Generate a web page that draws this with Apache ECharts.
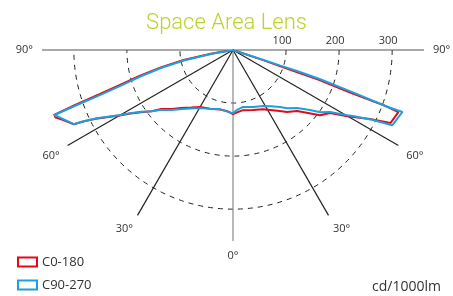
<!DOCTYPE html>
<html>
<head>
<meta charset="utf-8">
<script src="https://cdn.jsdelivr.net/npm/echarts@6/dist/echarts.min.js"></script>
<style>
  html, body { margin: 0; padding: 0; background: #fff; }
  #chart { width: 453px; height: 296px; }
</style>
</head>
<body>
<div id="chart"></div>
<script>
// gamma angle in degrees (negative = left half, positive = right half) and cd/1000lm
var redAngles = [-90, -80.5, -78.5, -76.5, -74.5, -72.8, -71.7, -70.8, -70, -67.6, -65, -64.4, -63.4, -60, -58.5, -56, -53, -50.6, -46, -42, -36, -30, -21.5, -12.4, -5, 0,
                 5, 9.5, 18.4, 26.9, 37.6, 41, 46.4, 53.2, 57, 59.9, 63.3, 65.1, 69.4, 69.9, 70, 70.9, 71, 71, 71.5, 90];
var redCd     = [0, 40, 95, 140, 183, 224, 265, 315, 364, 346, 331, 311, 289, 247, 230, 210, 192, 175, 160, 147, 134, 124, 119, 115, 116, 121,
                 117, 115, 119, 125, 145, 155, 167, 205, 218, 249, 289, 327, 333, 300, 235, 170, 127, 92, 60, 0];
var blueAngles = [-90, -80, -78, -76, -74, -72.3, -71.3, -70.6, -70, -67.6, -65, -64.4, -63.4, -60, -58.5, -56, -53, -50.6, -46, -41.9, -36.3, -29.6, -21.5, -12.4, -4.6, 0,
                  4, 10, 19.3, 28.2, 34, 39.5, 43, 47.8, 52.1, 54.5, 57.4, 60.3, 61.2, 63.4, 64.7, 69.9, 69.8, 70.5, 71.5, 71.8, 71.8, 72, 90];
var blueCd     = [0, 40, 95, 140, 183, 224, 265, 312, 358, 344, 331, 310, 287, 245, 228, 208, 192, 178, 163, 150, 137, 126, 119, 114, 117, 119,
                  113, 109, 114, 120, 128, 139, 150, 163, 184, 202, 217, 248, 258, 295, 332, 340, 310, 241, 172, 127, 94, 60, 0];

var seriesNames = ['C0-180', 'C90-270'];
var seriesColors = ['#e30a17', '#1ea0dd'];

function toPolar(angles, values) {
    var out = [];
    for (var i = 0; i < angles.length; i++) {
        out.push([values[i], -angles[i]]); // axis runs clockwise from the right, so flip sign
    }
    return out;
}

var myChart = echarts.init(document.getElementById('chart'));
var option = {
    animation: false,
    title: [{
        text: 'Space Area Lens',
        left: 'center',
        top: 7,
        textStyle: { color: '#bfd22b', fontSize: 22, fontWeight: 300, fontFamily: 'Roboto' }
    }, {
        text: 'cd/1000lm',
        right: 7,
        top: 275,
        textStyle: { color: '#333', fontSize: 14, fontWeight: 'normal', fontFamily: 'Open Sans' }
    }],
    legend: {
        orient: 'vertical',
        left: 17,
        top: 253,
        padding: 0,
        itemWidth: 19,
        itemHeight: 9,
        itemGap: 5,
        icon: 'rect',
        textStyle: { color: '#333', fontSize: 13, fontFamily: 'Open Sans', lineHeight: 18 },
        data: [
            { name: seriesNames[0], itemStyle: { color: '#fff', borderColor: seriesColors[0], borderWidth: 2 } },
            { name: seriesNames[1], itemStyle: { color: '#fff', borderColor: seriesColors[1], borderWidth: 2 } }
        ]
    },
    polar: { center: [233, 50], radius: 191 },
    angleAxis: {
        type: 'value',
        min: -90,
        max: 90,
        interval: 30,
        startAngle: 0,
        endAngle: -180,
        clockwise: true,
        axisLine: { show: false },
        axisTick: { show: false },
        axisLabel: {
            margin: 9,
            color: '#333',
            fontSize: 11,
            fontFamily: 'Open Sans',
            formatter: function (v) { return Math.abs(v) + '°'; }
        },
        splitLine: {
            show: true,
            lineStyle: { color: ['#555', '#222', '#222', '#888', '#222', '#222', '#555'], width: 1.2 }
        }
    },
    radiusAxis: {
        type: 'value',
        min: 0,
        max: 360,
        interval: 100,
        axisLine: { show: false },
        axisTick: { show: false },
        axisLabel: {
            margin: 4,
            padding: [0, 8, 0, 0],
            color: '#333',
            fontSize: 11,
            fontFamily: 'Open Sans',
            formatter: function (v) { return (v === 0 || v > 300) ? '' : v; }
        },
        splitLine: {
            show: true,
            lineStyle: { color: ['rgba(0,0,0,0)', '#222', '#222', '#222', 'rgba(0,0,0,0)'], width: 1, type: [5, 5] }
        }
    },
    series: [{
        name: seriesNames[0],
        type: 'line',
        coordinateSystem: 'polar',
        showSymbol: false,
        symbol: 'none',
        lineStyle: { color: seriesColors[0], width: 2 },
        itemStyle: { color: seriesColors[0] },
        data: toPolar(redAngles, redCd)
    }, {
        name: seriesNames[1],
        type: 'line',
        coordinateSystem: 'polar',
        showSymbol: false,
        symbol: 'none',
        lineStyle: { color: seriesColors[1], width: 2 },
        itemStyle: { color: seriesColors[1] },
        data: toPolar(blueAngles, blueCd)
    }]
};
myChart.setOption(option);
</script>
</body>
</html>
